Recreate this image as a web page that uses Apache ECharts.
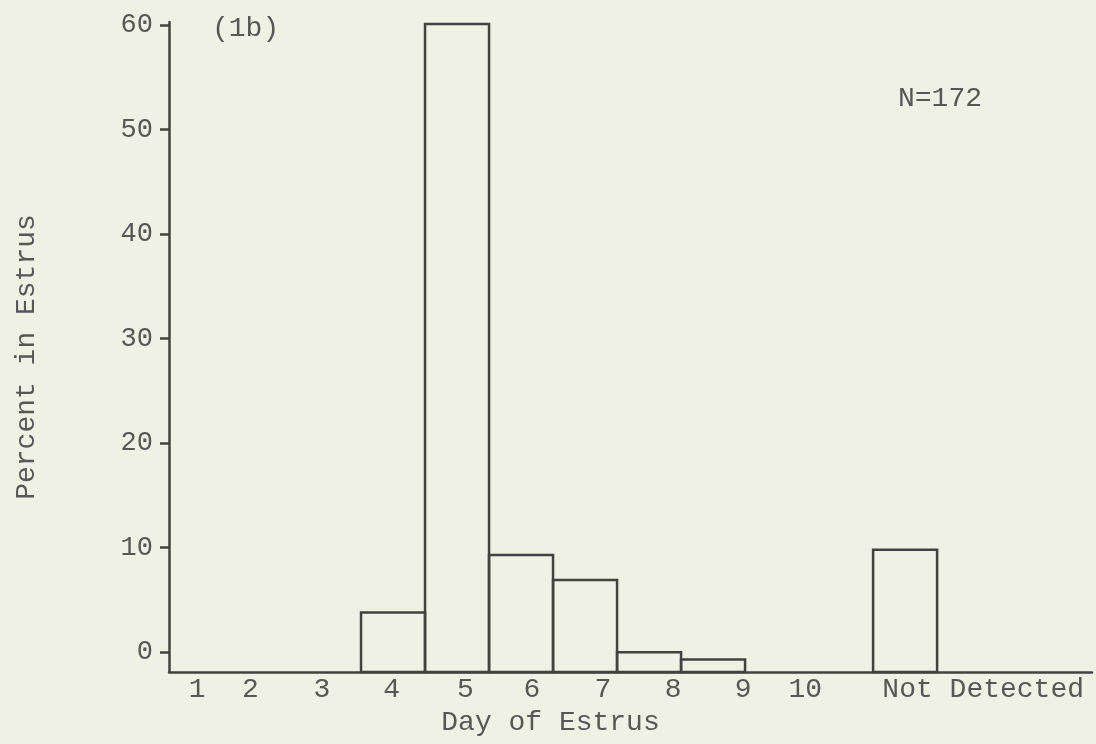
<!DOCTYPE html>
<html>
<head>
<meta charset="utf-8">
<title>Day of Estrus</title>
<script src="https://cdn.jsdelivr.net/npm/echarts@6/dist/echarts.min.js"></script>
<style>
  html, body { margin: 0; padding: 0; background: #eff1e4; }
  #chart { width: 1096px; height: 744px; }
</style>
</head>
<body>
<div id="chart"></div>
<script>
// Day of estrus categories (days 1-10 plus the undetected group)
const days = ['1', '2', '3', '4', '5', '6', '7', '8', '9', '10', 'Not Detected'];
// Percent of animals in estrus for each category (null = no bar)
const percentInEstrus = [null, null, null, 3.8, 60.1, 9.3, 6.9, 0.0, -0.7, null, 9.8];
// Y axis tick labels
const percentTicks = [0, 10, 20, 30, 40, 50, 60];
const sampleNote = 'N=172';
const panelTag = '(1b)';

// ---- layout ----
const FONT = '"Liberation Mono", "DejaVu Sans Mono", monospace';
const INK = '#424242';
const TEXT = '#575757';
// each category occupies one unit on the x axis; the undetected group sits apart
const slotOf = i => (i < 10 ? i : 11);
// typed label positions along the x axis (axis units)
const labelSlots = [0.44, 1.27, 2.39, 3.48, 4.63, 5.67, 6.78, 7.875, 8.97, 9.94, 12.72];
const Y_MIN = -1.9, Y_MAX = 60.3, X_MAX = 14.42;

const bars = [];
percentInEstrus.forEach((v, i) => {
  if (v !== null) bars.push([slotOf(i), slotOf(i) + 1, v, days[i]]);
});

const chart = echarts.init(document.getElementById('chart'), null, { renderer: 'canvas' });
chart.setOption({
  backgroundColor: '#eff1e4',
  animation: false,
  textStyle: { fontFamily: FONT },
  title: [
    { text: panelTag, left: 207, top: 10, textStyle: { fontFamily: FONT, fontSize: 28, fontWeight: 'normal', color: TEXT } },
    { text: sampleNote, left: 893, top: 80, textStyle: { fontFamily: FONT, fontSize: 28, fontWeight: 'normal', color: TEXT } }
  ],
  grid: { left: 169, right: 4, top: 22, bottom: 72 },
  xAxis: {
    type: 'value',
    min: 0,
    max: X_MAX,
    name: 'Day of Estrus',
    nameLocation: 'middle',
    nameGap: 36,
    nameTextStyle: { fontFamily: FONT, fontSize: 28, color: TEXT, padding: [0, 160, 0, 0] },
    axisLine: { show: true, onZero: false, lineStyle: { color: INK, width: 2.5 } },
    axisTick: { show: false },
    splitLine: { show: false },
    axisLabel: {
      customValues: labelSlots,
      formatter: v => days[labelSlots.indexOf(v)],
      fontFamily: FONT,
      fontSize: 28,
      color: TEXT,
      margin: 4
    }
  },
  yAxis: {
    type: 'value',
    min: Y_MIN,
    max: Y_MAX,
    name: 'Percent in Estrus',
    nameLocation: 'middle',
    nameRotate: 90,
    nameGap: 128,
    nameTextStyle: { fontFamily: FONT, fontSize: 28, color: TEXT, padding: [0, 20, 0, 0] },
    axisLine: { show: true, onZero: false, lineStyle: { color: INK, width: 2.5 } },
    axisTick: { show: true, customValues: percentTicks, length: 9, inside: false, lineStyle: { color: INK, width: 2.5 } },
    splitLine: { show: false },
    axisLabel: {
      customValues: percentTicks,
      fontFamily: FONT,
      fontSize: 27,
      color: TEXT,
      margin: 16
    }
  },
  series: [{
    type: 'custom',
    data: bars,
    encode: { x: [0, 1], y: 2 },
    clip: false,
    renderItem: (params, api) => {
      const p0 = api.coord([api.value(0), Y_MIN]);
      const p1 = api.coord([api.value(1), api.value(2)]);
      return {
        type: 'rect',
        shape: { x: p0[0], y: p1[1], width: p1[0] - p0[0], height: p0[1] - p1[1] },
        style: { fill: 'rgba(0,0,0,0)', stroke: INK, lineWidth: 2.5 }
      };
    }
  }]
});
</script>
</body>
</html>
